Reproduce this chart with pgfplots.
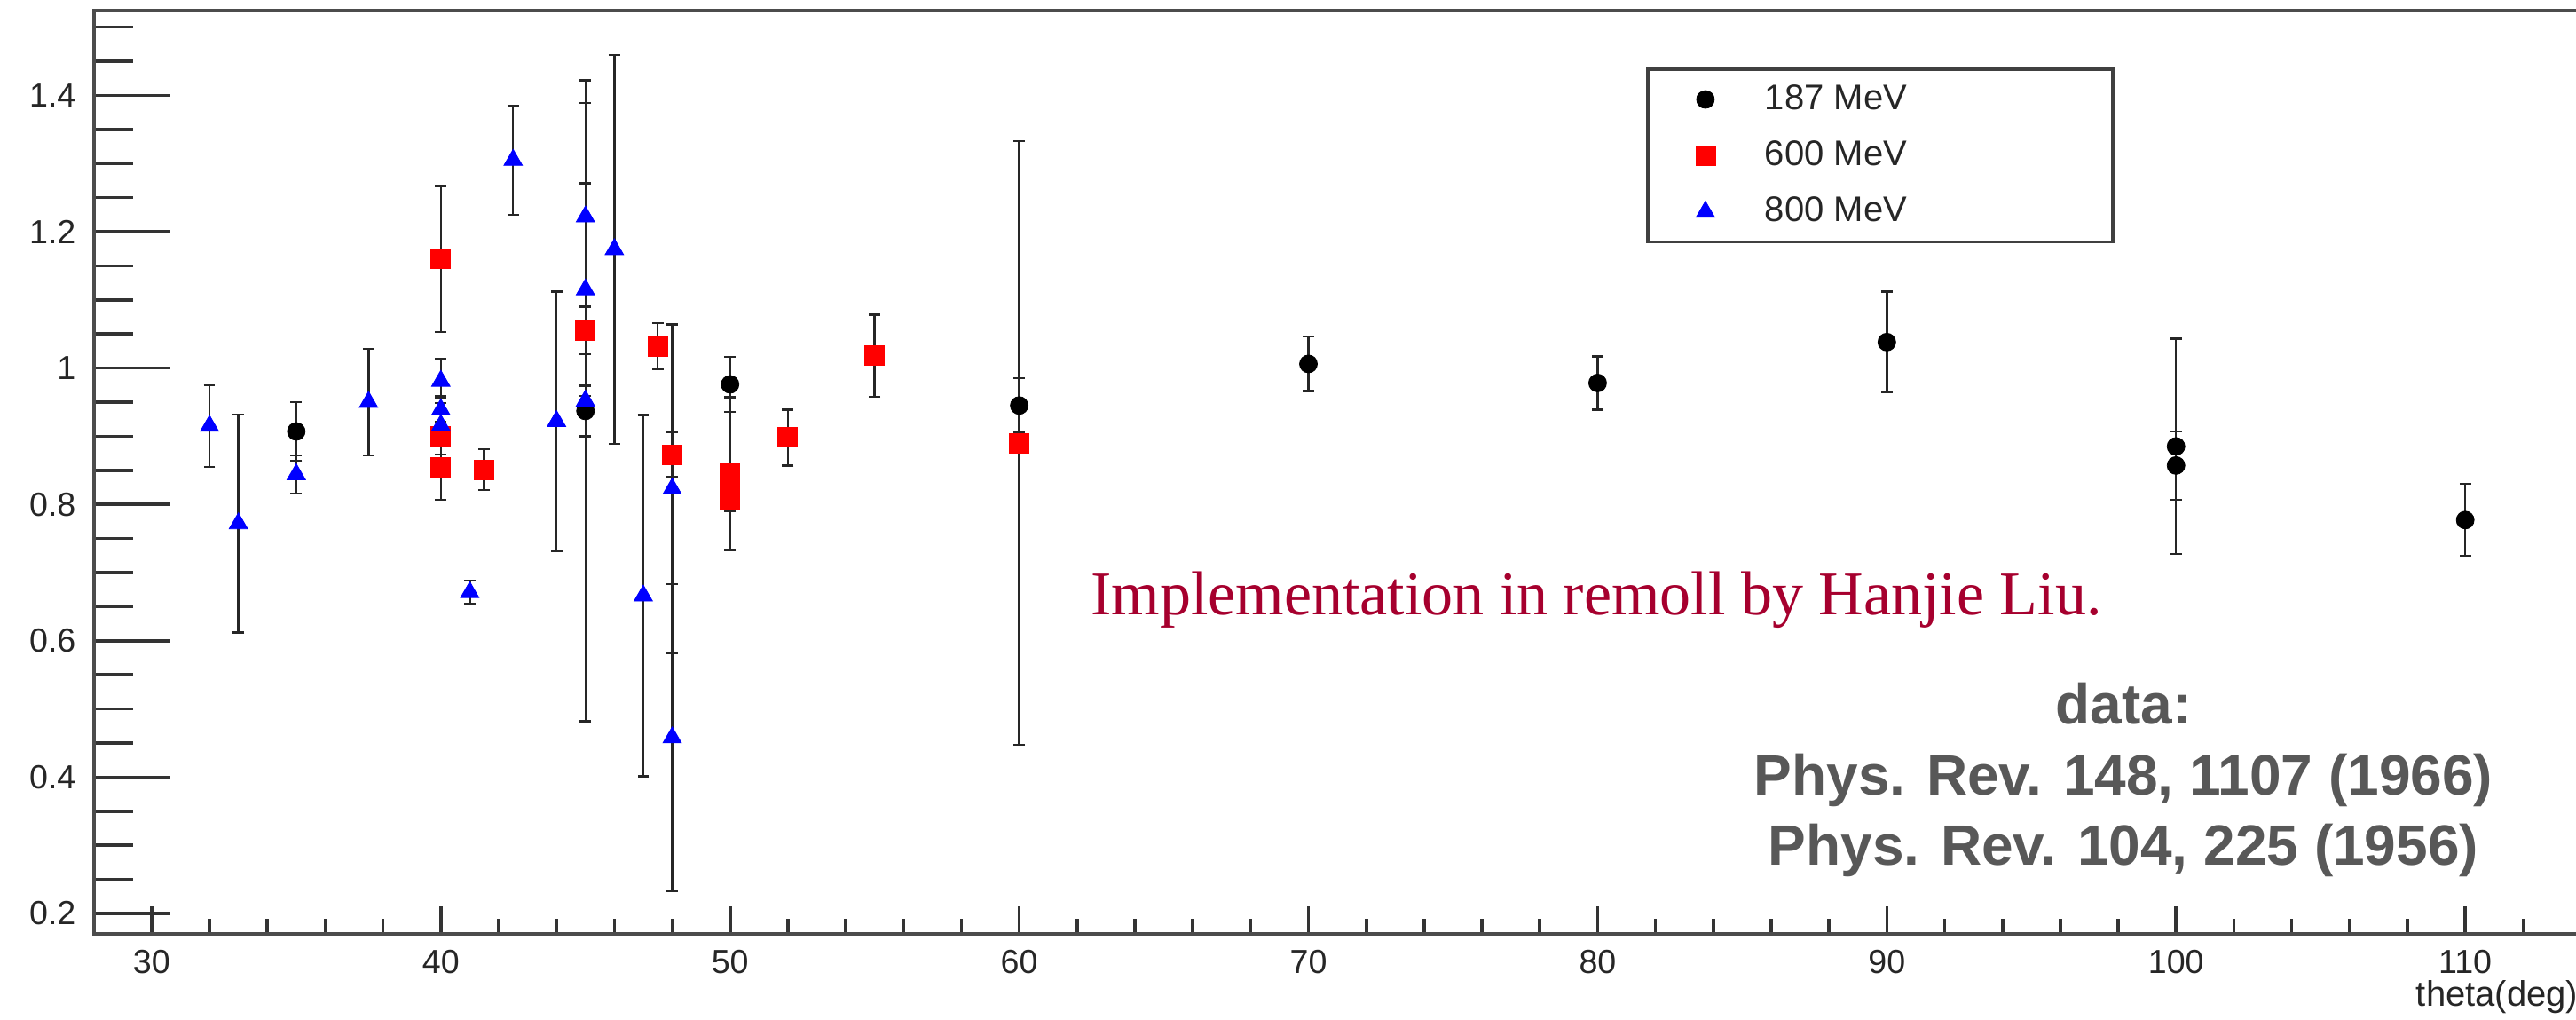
\documentclass[border=0pt]{standalone}
\usepackage{fontspec}
\usepackage{pgfplots}
\usepackage{pgfplotstable}
\pgfplotsset{compat=1.18}
\setmainfont{Liberation Sans}
\newfontfamily\notefont{Liberation Serif}

\definecolor{crimson}{RGB}{166,0,46}
\definecolor{refgray}{RGB}{88,88,88}

% theta (deg), ratio, error
\pgfplotstableread{
x y ey
35 0.907 0.043
45 0.937 0.037
50 0.976 0.040
60 0.945 0.040
70 1.006 0.040
80 0.978 0.039
90 1.038 0.074
100 0.885 0.158
100 0.857 0.050
110 0.777 0.053
}\dataA

\pgfplotstableread{
x y ey
40 1.160 0.107
40 0.900 0.039
40 0.855 0.048
41.5 0.851 0.030
45 1.055 0.035
47.5 1.032 0.034
48 0.873 0.033
50 0.845 0.112
50 0.825 0.020
50 0.806 0.016
52 0.898 0.041
55 1.018 0.060
60 0.890 0.443
}\dataB

\pgfplotstableread{
x y ey
32 0.915 0.060
33 0.772 0.160
35 0.844 0.028
37.5 0.950 0.078
40 0.981 0.032
40 0.939 0.018
40 0.916 0.043
41 0.671 0.017
42.5 1.305 0.080
44 0.922 0.190
45 1.222 0.167
45 1.115 0.156
45 0.952 0.470
46 1.174 0.285
47 0.666 0.265
48 0.823 0.241
48 0.458 0.225
}\dataC

\pgfplotsset{
  rootframe/.style={
    at={(26.43pt,24pt)}, anchor=south west,
    scale only axis, width=700.7pt, height=259.97pt,
    xmin=28, xmax=114, ymin=0.17, ymax=1.524,
    axis line style={line width=1.1pt, black!70},
    tick style={line width=0.9pt, black!80},
    tick align=inside, clip=false,
    /pgf/number format/assume math mode=true,
    tick label style={font=\fontsize{9.4}{11}\selectfont, text=black!85},
  },
  rooterrs/.style={
    error bars/.cd, y dir=both, y explicit,
    error bar style={line width=0.6pt, black!85},
    error mark options={rotate=90, mark size=1.6pt, line width=0.6pt, black!85},
  },
}

\begin{document}
\begin{tikzpicture}
\useasboundingbox (0,0) rectangle (725.75pt,287pt);
\clip (0,0) rectangle (725.75pt,287pt);

% y axis ticks
\begin{axis}[rootframe,
  xtick=\empty, ytick pos=left,
  ytick={0.2,0.4,0.6,0.8,1.0,1.2,1.4},
  yticklabels={0.2,0.4,0.6,0.8,1,1.2,1.4},
  minor ytick={0.25,0.3,0.35,0.45,0.5,0.55,0.65,0.7,0.75,0.85,0.9,0.95,1.05,1.1,1.15,1.25,1.3,1.35,1.45,1.5},
  major tick length=21.5pt, minor tick length=11.15pt,
  yticklabel style={xshift=-1.55pt},
]
\end{axis}

% x axis ticks and data
\begin{axis}[rootframe,
  ytick=\empty, xtick pos=left,
  xtick={30,40,50,60,70,80,90,100,110},
  xticklabels={30,40,50,60,70,80,90,100,110},
  minor xtick={32,34,36,38,42,44,46,48,52,54,56,58,62,64,66,68,72,74,76,78,82,84,86,88,92,94,96,98,102,104,106,108,112},
  major tick length=7.75pt, minor tick length=4.25pt,
  xticklabel style={yshift=-1pt},
  legend cell align=left,
  legend image code/.code={\draw[#1] plot coordinates {(0pt,0pt)};},
  legend style={at={(axis cs:83.39,1.4264)}, anchor=north west,
    draw=none, fill=none, inner sep=0pt, outer sep=0pt,
    column sep=12pt, row sep=3.34pt,
    font=\fontsize{10}{12}\selectfont, text=black!85},
]
\addplot[only marks, mark=*, mark size=2.5pt, black,
  mark options={fill=black, draw=black, line width=0.2pt}, rooterrs]
  table[x=x, y=y, y error=ey] {\dataA};
\addlegendentry{187 MeV}
\addplot[only marks, mark=square*, mark size=2.75pt, red,
  mark options={fill=red, draw=red, line width=0.2pt}, rooterrs]
  table[x=x, y=y, y error=ey] {\dataB};
\addlegendentry{600 MeV}
\addplot[only marks, mark=triangle*, mark size=3pt, blue,
  mark options={fill=blue, draw=blue, line width=0.2pt}, rooterrs]
  table[x=x, y=y, y error=ey] {\dataC};
\addlegendentry{800 MeV}

% legend frame
\draw[line width=0.9pt, black!75] (axis cs:81.74,1.4384) rectangle (axis cs:97.82,1.1852);

\node[anchor=base west, inner sep=0pt, text=crimson,
  font=\notefont\fontsize{17.5}{21}\selectfont]
  at (axis cs:62.45,0.6376) {Implementation in remoll by Hanjie Liu.};

\node[anchor=base, inner sep=0pt, text=refgray, font=\bfseries\fontsize{16}{19}\selectfont]
  at (axis cs:98.18,0.4781) {data:};
\node[anchor=base, inner sep=0pt, text=refgray, font=\bfseries\fontsize{16}{19}\selectfont]
  at (axis cs:98.18,0.3736) {Phys. Rev. 148, 1107 (1966)};
\node[anchor=base, inner sep=0pt, text=refgray, font=\bfseries\fontsize{16}{19}\selectfont]
  at (axis cs:98.18,0.2714) {Phys. Rev. 104, 225 (1956)};

\node[anchor=base east, inner sep=0pt, xshift=-0.6pt, yshift=-20.25pt,
  font=\fontsize{10}{12}\selectfont, text=black!85]
  at (rel axis cs:1,0) {theta(deg)};
\end{axis}
\end{tikzpicture}
\end{document}
